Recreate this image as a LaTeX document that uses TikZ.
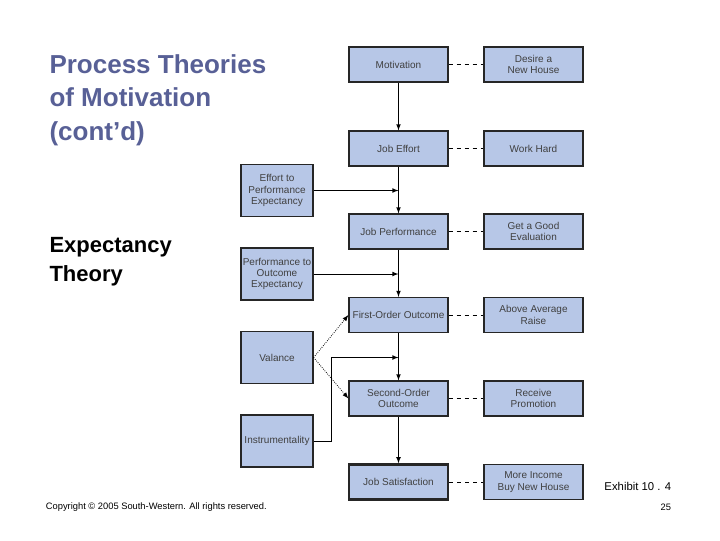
\documentclass[tikz,border=0pt]{standalone}
\usepackage{fontspec}
\setmainfont{Liberation Sans}
\definecolor{boxblue}{RGB}{183,199,231}
\definecolor{titleblue}{RGB}{88,96,150}
\tikzset{every picture/.style={line width=0.75pt}}
\tikzset{
  box/.style={draw=black!85,fill=boxblue,line width=0.9pt,align=center,inner sep=1pt,
    font=\fontsize{7.5}{8.5}\selectfont\color{black!75}},
  mid/.style={box,minimum width=74.25pt,minimum height=26.25pt},
  side/.style={box,minimum width=54pt,minimum height=39pt},
  flow/.style={-latex,line width=0.6pt},
  link/.style={dashed,line width=0.6pt},
}
\begin{document}
\begin{tikzpicture}[x=0.75pt,y=0.75pt,yscale=-1,xscale=1]
	\useasboundingbox (0,0) rectangle (720,540);
	
	% Title
	\node (title) [anchor=north west,align=left,inner sep=0pt,text=titleblue,font=\bfseries\fontsize{19.5}{25}\selectfont] at (49,54) {Process Theories\\of Motivation\\(cont'd)};
	\node (sub) [anchor=north west,align=left,inner sep=0pt,font=\bfseries\fontsize{16.5}{22}\selectfont] at (49,237) {Expectancy\\Theory};
	
	% Middle column
	\node (mot) [mid] at (398.5,64.5) {Motivation};
	\node (eff) [mid] at (398.5,148.5) {Job Effort};
	\node (perf) [mid] at (398.5,231.5) {Job Performance};
	\node (fo) [mid] at (398.5,315) {First-Order Outcome};
	\node (so) [mid] at (398.5,398.5) {Second-Order\\Outcome};
	\node (sat) [mid,line width=1.8pt] at (398.5,482) {Job Satisfaction};
	
	% Right column
	\node (house) [mid] at (533.5,64.5) {Desire a\\New House};
	\node (hard) [mid] at (533.5,148.5) {Work Hard};
	\node (eval) [mid] at (533.5,231.5) {Get a Good\\Evaluation};
	\node (raise) [mid] at (533.5,315) {Above Average\\Raise};
	\node (promo) [mid] at (533.5,398.5) {Receive\\Promotion};
	\node (income) [mid] at (533.5,482) {More Income\\Buy New House};
	
	% Left column
	\node (epe) [side] at (277,190.5) {Effort to\\Performance\\Expectancy};
	\node (poe) [side] at (277,274) {Performance to\\Outcome\\Expectancy};
	\node (val) [side] at (277,357.5) {Valance};
	\node (inst) [side] at (277,441) {Instrumentality};
	
	% Flow
	\foreach \a/\b in {mot/eff,eff/perf,perf/fo,fo/so,so/sat}
		\draw [flow] (\a) -- (\b);
	\foreach \a/\b in {mot/house,eff/hard,perf/eval,fo/raise,so/promo,sat/income}
		\draw [link] (\a) -- (\b);
	
	% Expectancies
	\coordinate (j1) at (398.5,190.5);
	\coordinate (j2) at (398.5,274);
	\coordinate (j3) at (398.5,357.5);
	\draw [flow] (epe) -- (j1);
	\draw [flow] (poe) -- (j2);
	\draw [flow] (inst.east) -| (331,357.5) -- (j3);
	\draw [-latex,densely dotted,line width=0.6pt] (val.east) -- (fo.west);
	\draw [-latex,densely dotted,line width=0.6pt] (val.east) -- (so.west);
	
	% Footer
	\node (exh) [anchor=east,font=\fontsize{8.5}{10}\selectfont] at (676,486) {Exhibit 10 . 4};
	\node (copy) [anchor=west,font=\fontsize{7}{8}\selectfont] at (41,507) {Copyright \textcopyright{} 2005 South-Western. All rights reserved.};
	\node (page) [anchor=east,font=\fontsize{7}{8}\selectfont] at (676,507) {25};
\end{tikzpicture}
\end{document}
